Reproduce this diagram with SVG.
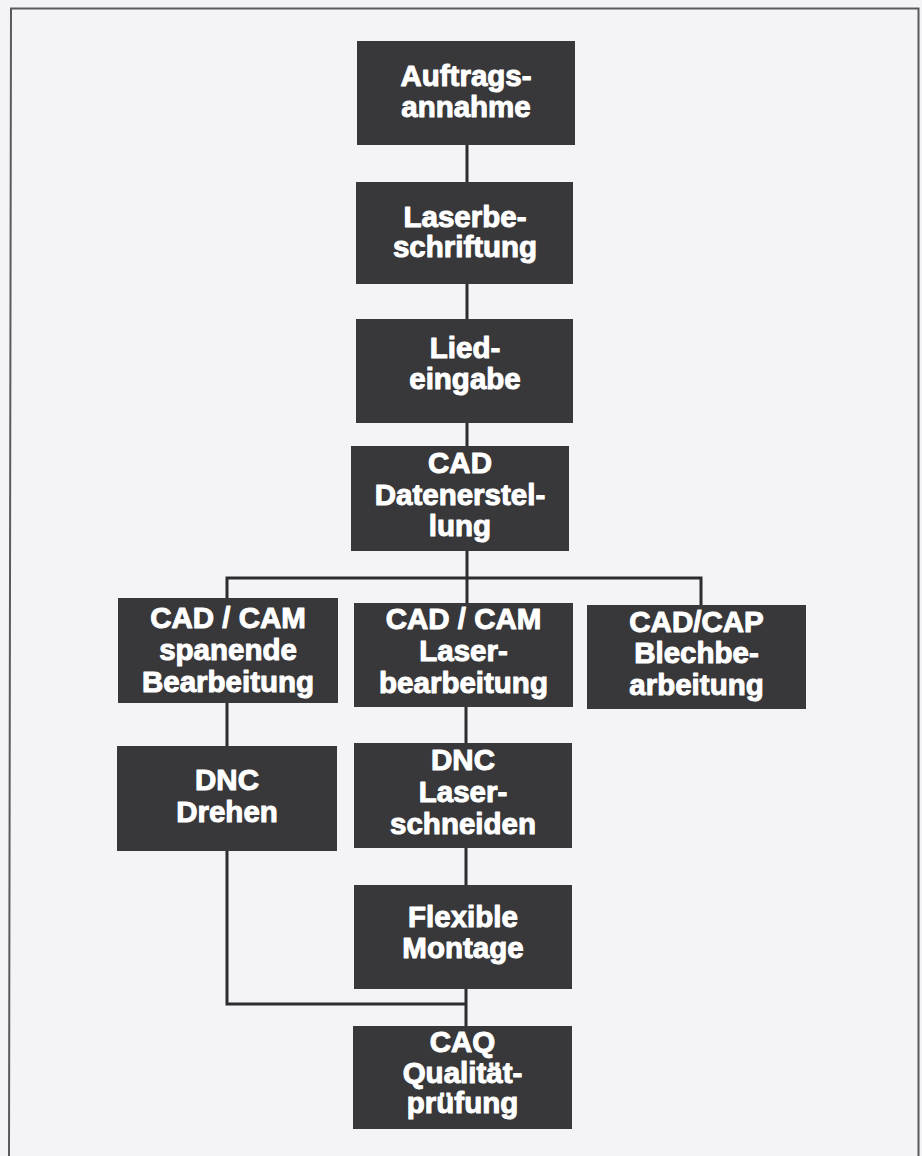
<svg xmlns="http://www.w3.org/2000/svg" width="922" height="1156" viewBox="0 0 922 1156">
<style>
.box{fill:#38383a}
.t{font-family:"Liberation Sans",Arial,sans-serif;font-weight:bold;font-size:29.5px;fill:#ffffff;stroke:#ffffff;stroke-width:1;stroke-linejoin:round;text-anchor:middle}
.c{fill:none;stroke:#2c2c30;stroke-width:3;stroke-linejoin:miter}
</style>
<rect x="0" y="0" width="922" height="1156" fill="#f4f4f6"/>
<path d="M9,1156 L11,8.5 L918.5,8.5 L918.5,1156" fill="none" stroke="#5a5a5e" stroke-width="2"/>
<g id="connectors">
<path class="c" d="M467,145 V182 M467,284 V319 M467,423 V446 M467,551 V578"/>
<path class="c" d="M227,598 V578 H701 V605 M467,578 V603"/>
<path class="c" d="M227,703 V746 M466,707 V743"/>
<path class="c" d="M227,851 V1004 H466 M466,848 V885 M466,989 V1026"/>
</g>
<g id="auftragsannahme"><rect class="box" x="357" y="41" width="218" height="104"/><text class="t" x="466" y="86">Auftrags-</text><text class="t" x="466" y="117">annahme</text></g>
<g id="laserbeschriftung"><rect class="box" x="356" y="182" width="217" height="102"/><text class="t" x="465" y="227">Laserbe-</text><text class="t" x="465" y="257">schriftung</text></g>
<g id="liedeingabe"><rect class="box" x="356" y="319" width="217" height="104"/><text class="t" x="465" y="358">Lied-</text><text class="t" x="465" y="389">eingabe</text></g>
<g id="cad-datenerstellung"><rect class="box" x="351" y="446" width="218" height="105"/><text class="t" x="460" y="473">CAD</text><text class="t" x="460" y="505">Datenerstel-</text><text class="t" x="460" y="536">lung</text></g>
<g id="cadcam-spanend"><rect class="box" x="118" y="598" width="220" height="105"/><text class="t" x="228" y="628">CAD / CAM</text><text class="t" x="228" y="660">spanende</text><text class="t" x="228" y="692">Bearbeitung</text></g>
<g id="cadcam-laser"><rect class="box" x="354" y="603" width="219" height="104"/><text class="t" x="463.5" y="629">CAD / CAM</text><text class="t" x="463.5" y="661">Laser-</text><text class="t" x="463.5" y="693">bearbeitung</text></g>
<g id="cadcap-blech"><rect class="box" x="587" y="605" width="219" height="104"/><text class="t" x="696.5" y="632">CAD/CAP</text><text class="t" x="696.5" y="663">Blechbe-</text><text class="t" x="696.5" y="695">arbeitung</text></g>
<g id="dnc-drehen"><rect class="box" x="117" y="746" width="220" height="105"/><text class="t" x="227" y="790">DNC</text><text class="t" x="227" y="822">Drehen</text></g>
<g id="dnc-laserschneiden"><rect class="box" x="354" y="743" width="218" height="105"/><text class="t" x="463" y="770">DNC</text><text class="t" x="463" y="802">Laser-</text><text class="t" x="463" y="834">schneiden</text></g>
<g id="flexible-montage"><rect class="box" x="354" y="885" width="218" height="104"/><text class="t" x="463" y="927">Flexible</text><text class="t" x="463" y="958">Montage</text></g>
<g id="caq"><rect class="box" x="353" y="1026" width="219" height="103"/><text class="t" x="462.5" y="1052">CAQ</text><text class="t" x="462.5" y="1083">Qualität-</text><text class="t" x="462.5" y="1113">prüfung</text></g>
</svg>
